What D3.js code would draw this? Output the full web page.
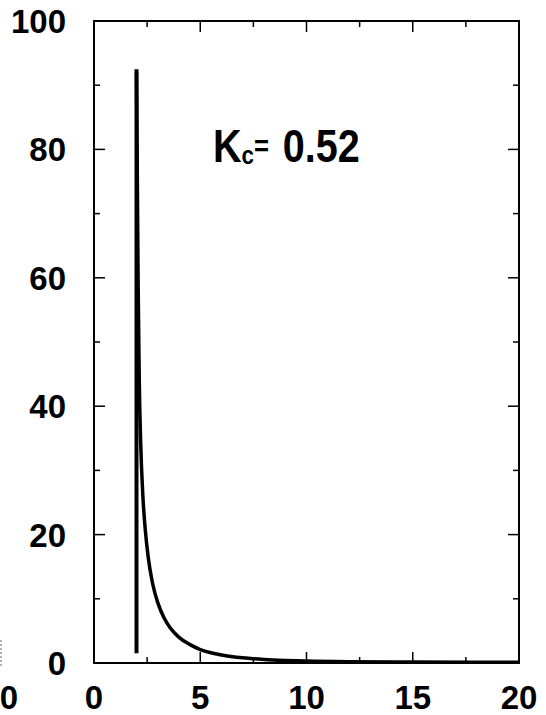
<!DOCTYPE html>
<html>
<head>
<meta charset="utf-8">
<script src="https://cdn.jsdelivr.net/npm/d3@7"></script>
<style>
  body { margin: 0; background: #fff; }
  text { font-family: "Liberation Sans", Arial, sans-serif; }
</style>
</head>
<body>
<div id="chart"></div>
<script>
// curve
const curveX = [2.0, 2.04, 2.08, 2.13, 2.2, 2.3, 2.42, 2.55, 2.75, 3.0, 3.3, 3.6, 4.0, 4.5, 5.0, 5.5, 6.0, 7.0, 8.0, 9.0, 10, 12, 15, 20];
const curveY = [92, 75, 58, 44, 34, 26, 20.5, 16.5, 12.5, 9.4, 7.0, 5.4, 4.0, 2.9, 2.1, 1.6, 1.25, 0.8, 0.55, 0.4, 0.3, 0.2, 0.15, 0.1];
// vertical line at x = 2
const vlineX = [2.0, 2.0];
const vlineY = [1.5, 92.5];

const xTicks = [0, 5, 10, 15, 20];
const xMinor = [2.5, 7.5, 12.5, 17.5];
const yTicks = [0, 20, 40, 60, 80, 100];
const yMinor = [10, 30, 50, 70, 90];

const W = 546, H = 715;
const margin = { top: 21, right: 27, bottom: 52, left: 94 };
const width = W - margin.left - margin.right;
const height = H - margin.top - margin.bottom;

const svg = d3.select("#chart")
  .append("svg")
  .attr("width", W)
  .attr("height", H);

svg.append("rect").attr("width", W).attr("height", H).attr("fill", "#fff");

const g = svg.append("g")
  .attr("transform", `translate(${margin.left},${margin.top})`);

const x = d3.scaleLinear().domain([0, 20]).range([0, width]);
const y = d3.scaleLinear().domain([0, 100]).range([height, 0]);

// frame
g.append("rect")
  .attr("width", width)
  .attr("height", height)
  .attr("fill", "none")
  .attr("stroke", "#000")
  .attr("stroke-width", 2);

// inward ticks on all four sides
const tickLine = (x1, y1, x2, y2, w) => g.append("line")
  .attr("x1", x1).attr("y1", y1).attr("x2", x2).attr("y2", y2)
  .attr("stroke", "#000").attr("stroke-width", w);

xTicks.slice(1, -1).forEach(v => {
  tickLine(x(v), height, x(v), height - 11, 1.5);
  tickLine(x(v), 0, x(v), 11, 1.5);
});
xMinor.forEach(v => {
  tickLine(x(v), height, x(v), height - 6, 1.5);
  tickLine(x(v), 0, x(v), 6, 1.5);
});
yTicks.slice(1, -1).forEach(v => {
  tickLine(0, y(v), 11, y(v), 1.5);
  tickLine(width, y(v), width - 11, y(v), 1.5);
});
yMinor.forEach(v => {
  tickLine(0, y(v), 6, y(v), 1.5);
  tickLine(width, y(v), width - 6, y(v), 1.5);
});

// tick labels
g.selectAll(".xlab")
  .data(xTicks)
  .enter()
  .append("text")
  .attr("class", "xlab")
  .attr("x", d => x(d))
  .attr("y", height + 46)
  .attr("text-anchor", "middle")
  .attr("font-size", 33)
  .attr("font-weight", "bold")
  .text(d => d);

g.selectAll(".ylab")
  .data(yTicks)
  .enter()
  .append("text")
  .attr("class", "ylab")
  .attr("x", -28)
  .attr("y", d => y(d) + 12)
  .attr("text-anchor", "end")
  .attr("font-size", 33)
  .attr("font-weight", "bold")
  .text(d => d);

// stray label and dashed edge from the neighbouring panel
svg.append("text")
  .attr("x", 9)
  .attr("y", H - 6)
  .attr("text-anchor", "middle")
  .attr("font-size", 33)
  .attr("font-weight", "bold")
  .text("0");
svg.append("line")
  .attr("x1", 1).attr("y1", 640).attr("x2", 1).attr("y2", 668)
  .attr("stroke", "#999").attr("stroke-width", 1.5)
  .attr("stroke-dasharray", "2,2");

// lines
const line = d3.line()
  .x(d => x(d[0]))
  .y(d => y(d[1]))
  .curve(d3.curveMonotoneX);

g.append("path")
  .datum(curveX.map((v, i) => [v, curveY[i]]))
  .attr("d", line)
  .attr("fill", "none")
  .attr("stroke", "#000")
  .attr("stroke-width", 3.5);

g.append("path")
  .datum(vlineX.map((v, i) => [v, vlineY[i]]))
  .attr("d", d3.line().x(d => x(d[0])).y(d => y(d[1])))
  .attr("fill", "none")
  .attr("stroke", "#000")
  .attr("stroke-width", 4);

// annotation (handwritten in the original)
const nx = x(5.6), ny = y(78);
const note = g.append("text")
  .attr("transform", `translate(${nx},${ny}) scale(0.86,1)`)
  .attr("font-family", "DejaVu Sans")
  .attr("font-size", 46)
  .attr("font-weight", "bold");
note.append("tspan").text("K");
note.append("tspan").attr("font-size", 26).attr("dy", 2).text("c");
note.append("tspan").attr("font-size", 30).attr("dy", -8).text("=");
note.append("tspan").attr("dy", 6).attr("dx", 16).text("0.52");
</script>
</body>
</html>
